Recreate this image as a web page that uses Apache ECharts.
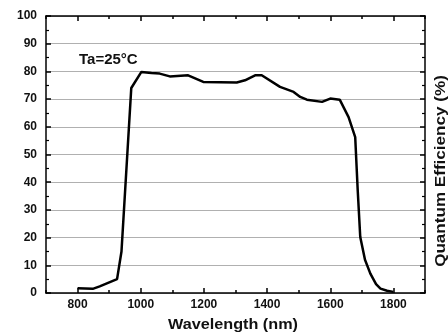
<!DOCTYPE html>
<html><head><meta charset="utf-8">
<script src="https://cdn.jsdelivr.net/npm/echarts@6/dist/echarts.min.js"></script>
<style>html,body{margin:0;padding:0;background:#fff}#c{width:448px;height:335px}</style>
</head><body><div id="c"></div>
<script>
var wavelength = [800, 848, 870, 925, 939, 970, 1002, 1034, 1060, 1092, 1150, 1198, 1304, 1330, 1362, 1383, 1441, 1484, 1505, 1526, 1574, 1600, 1630, 1658, 1679, 1687, 1695, 1710, 1727, 1745, 1759, 1780, 1800];
var qe = [1.7, 1.5, 2.4, 5, 15, 74, 79.8, 79.4, 79.2, 78.2, 78.6, 76.2, 76.0, 76.8, 78.6, 78.6, 74.4, 72.6, 70.8, 69.8, 69.0, 70.2, 69.8, 63.5, 56.3, 37, 20.2, 12, 7, 3.2, 1.6, 0.8, 0.4];
var xLabels = [800, 1000, 1200, 1400, 1600, 1800];
var xTitle = 'Wavelength (nm)';
var yTitle = 'Quantum Efficiency (%)';
var note = 'Ta=25°C';

var FONT = '"Liberation Sans", Arial, sans-serif';
var chart = echarts.init(document.getElementById('c'), null, {renderer: 'canvas'});
var pts = wavelength.map(function (w, i) { return [w, qe[i]]; });
function xa(pos, major, showLine, showLabel) {
  return {
    type: 'value', position: pos, min: 700, max: 1900, interval: 100,
    axisLine: {show: showLine, onZero: false, lineStyle: {color: '#000', width: 1.5}},
    axisTick: major ? {show: true, inside: true, length: 5, customValues: xLabels, lineStyle: {color: '#000', width: 1.5}}
                    : {show: true, inside: true, length: 3, lineStyle: {color: '#000', width: 1.5}},
    axisLabel: showLabel ? {show: true, customValues: xLabels, formatter: function (v) { return String(v); }, margin: 6, color: '#111', fontSize: 12, fontWeight: 'bold', fontFamily: FONT} : {show: false},
    splitLine: {show: false}
  };
}
function ya(pos, showLabel) {
  return {
    type: 'value', position: pos, min: 0, max: 100, interval: 10,
    axisLine: {show: true, onZero: false, lineStyle: {color: '#000', width: 1.5}},
    axisTick: {show: true, inside: true, length: 5, lineStyle: {color: '#000', width: 1.5}},
    minorTick: {show: true, splitNumber: 2, length: 3, lineStyle: {color: '#000', width: 1.2}},
    axisLabel: showLabel ? {show: true, margin: 9, color: '#111', fontSize: 12, fontWeight: 'bold', fontFamily: FONT} : {show: false},
    splitLine: {show: showLabel, lineStyle: {color: '#b0b0b0', width: 1}}
  };
}
chart.setOption({
  animation: false,
  backgroundColor: '#fff',
  grid: {left: 46, right: 23, top: 16, bottom: 42, containLabel: false},
  xAxis: [xa('bottom', true, true, true), xa('bottom', false, false, false), xa('top', true, true, false), xa('top', false, false, false)],
  yAxis: [ya('left', true), ya('right', false)],
  series: [{
    type: 'line', data: pts, xAxisIndex: 0, yAxisIndex: 0,
    showSymbol: false, symbol: 'none', smooth: false,
    lineStyle: {color: '#000', width: 2.5}
  }],
  graphic: [
    {type: 'text', left: 79, top: 52, style: {text: note, fontSize: 15, fontWeight: 'bold', fontFamily: FONT, fill: '#111'}},
    {type: 'text', x: 233, y: 325, scaleX: 1.08, style: {text: xTitle, fontSize: 15, fontWeight: 'bold', fontFamily: FONT, fill: '#111', align: 'center', verticalAlign: 'middle'}},
    {type: 'text', x: 441, y: 171, rotation: Math.PI / 2, scaleX: 1.22, style: {text: yTitle, fontSize: 14, fontWeight: 'bold', fontFamily: FONT, fill: '#111', align: 'center', verticalAlign: 'middle'}}
  ]
});
</script></body></html>
